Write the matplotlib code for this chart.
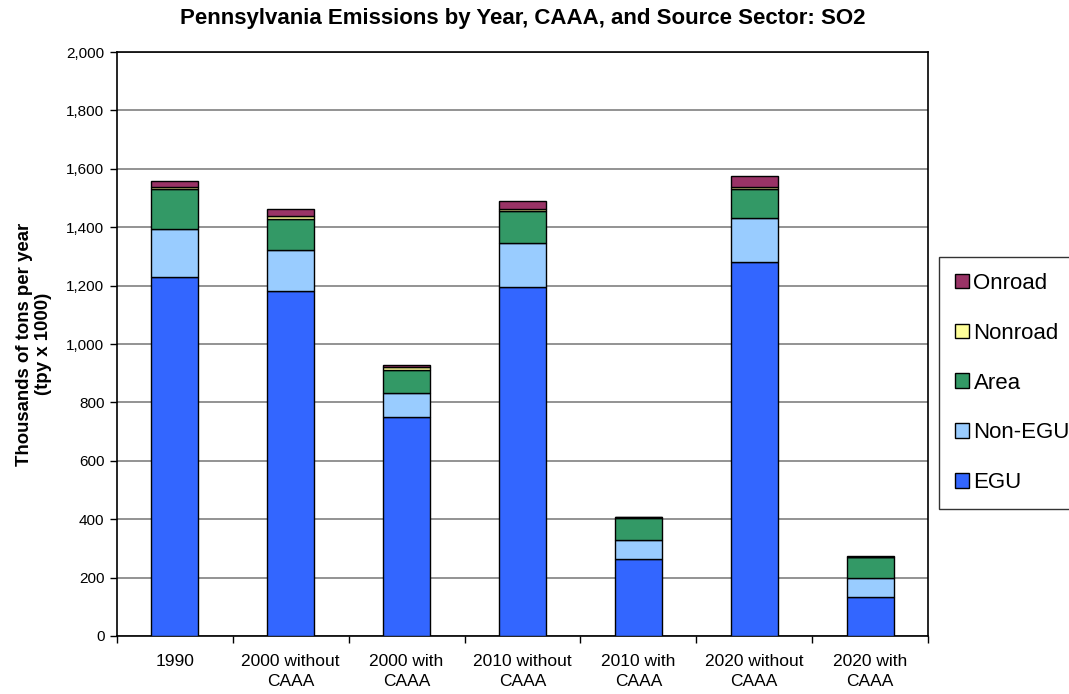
import matplotlib
matplotlib.use("Agg")
import matplotlib.pyplot as plt
import numpy as np
from matplotlib.ticker import FuncFormatter, FixedLocator

plt.rcParams["font.family"] = ["Liberation Sans", "DejaVu Sans"]

CATEGORIES = ["1990", "2000 without\nCAAA", "2000 with\nCAAA", "2010 without\nCAAA",
              "2010 with\nCAAA", "2020 without\nCAAA", "2020 with\nCAAA"]
# thousands of tons per year, stacked bottom -> top
EGU     = [1230, 1181, 751, 1196, 265, 1281, 133]
NON_EGU = [164, 140, 82, 149, 64, 152, 65]
AREA    = [137, 108, 78, 109, 76, 97, 72]
NONROAD = [8, 9, 9, 8, 2, 7, 1]
ONROAD  = [19, 23, 7, 29, 2, 38, 2]

SERIES = [("EGU", EGU, "#3366FF"), ("Non-EGU", NON_EGU, "#99CCFF"),
          ("Area", AREA, "#339966"), ("Nonroad", NONROAD, "#FFFF99"),
          ("Onroad", ONROAD, "#993366")]

fig = plt.figure(figsize=(10.69, 6.94), dpi=100)
ax = fig.add_axes([0.1094, 0.0836, 0.7587, 0.8414])

x = np.arange(len(CATEGORIES))
bottom = np.zeros(len(CATEGORIES))
handles = []
for name, vals, color in SERIES:
    b = ax.bar(x, vals, width=0.405, bottom=bottom, color=color,
               edgecolor="black", linewidth=1.0, label=name, zorder=3)
    handles.append(b)
    bottom += np.array(vals)

ax.set_xlim(-0.5, len(CATEGORIES) - 0.5)
ax.set_ylim(0, 2000)
ax.set_yticks(np.arange(0, 2001, 200))
ax.yaxis.set_major_formatter(FuncFormatter(lambda v, p: f"{int(v):,}"))
ax.grid(axis="y", color="#808080", linewidth=1.2, zorder=0)

ax.set_xticks(x)
ax.set_xticklabels(CATEGORIES, fontsize=12.5, linespacing=1.45)
ax.xaxis.set_minor_locator(FixedLocator(np.arange(-0.5, len(CATEGORIES), 1.0)))
ax.tick_params(axis="x", which="major", length=0, pad=13)
ax.tick_params(axis="x", which="minor", length=5, width=1, direction="out")
ax.tick_params(axis="y", length=5, width=1, direction="out", labelsize=11, pad=4)

for s in ax.spines.values():
    s.set_color("black")
    s.set_linewidth(1.2)

ax.set_ylabel("Thousands of tons per year\n(tpy x 1000)", fontsize=13.4,
              fontweight="bold", labelpad=10, linespacing=1.15)
ax.set_title("Pennsylvania Emissions by Year, CAAA, and Source Sector: SO2",
             fontsize=16, fontweight="bold", pad=20)

leg = fig.legend(handles[::-1], [s[0] for s in SERIES][::-1],
                 loc="upper left", bbox_to_anchor=(0.878, 0.63),
                 bbox_transform=fig.transFigure, fontsize=16,
                 frameon=True, fancybox=False, edgecolor="black",
                 handlelength=0.63, handleheight=0.63, handletextpad=0.22,
                 labelspacing=1.3, borderpad=0.72, borderaxespad=0)
leg.get_frame().set_linewidth(1.0)

fig.savefig("out.png", dpi=100)
